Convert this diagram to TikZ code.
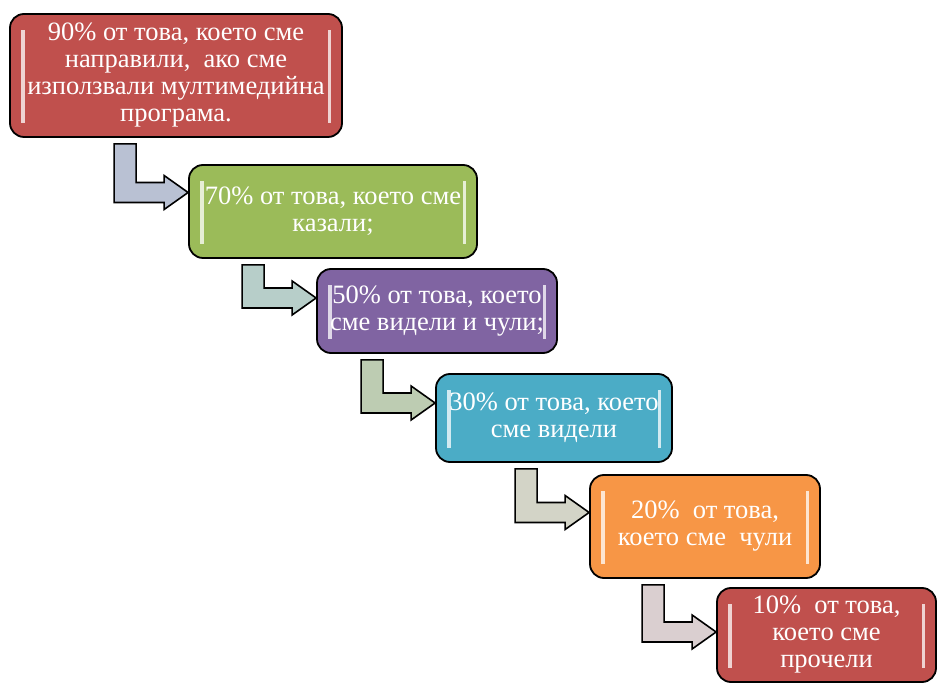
\documentclass[tikz,border=0pt]{standalone}
\usepackage{fontspec}
\setmainfont{Liberation Serif}
\usetikzlibrary{calc,positioning}
\definecolor{stagered}{RGB}{192,80,77}
\definecolor{stagegreen}{RGB}{155,187,89}
\definecolor{stagepurple}{RGB}{128,100,162}
\definecolor{stageteal}{RGB}{75,172,198}
\definecolor{stageorange}{RGB}{247,150,70}
\definecolor{arrowblue}{RGB}{185,193,211}
\definecolor{arrowteal}{RGB}{183,206,201}
\definecolor{arrowsage}{RGB}{189,204,178}
\definecolor{arrowkhaki}{RGB}{211,212,199}
\definecolor{arrowrose}{RGB}{218,207,208}

\begin{document}
\begin{tikzpicture}[x=1pt, y=1pt,
    stage/.style={rectangle, rounded corners=14pt, draw=black, line width=1.8pt, fill=#1,
      text=white, align=center, inner sep=0pt, font=\fontsize{26.5}{27}\selectfont,
      path picture={
        \fill[sharp corners, #1!25!white] ([xshift=11pt,yshift=-16pt]path picture bounding box.north west) rectangle ([xshift=14.5pt,yshift=14pt]path picture bounding box.south west);
        \fill[sharp corners, #1!25!white] ([xshift=-14.5pt,yshift=-16pt]path picture bounding box.north east) rectangle ([xshift=-11pt,yshift=14pt]path picture bounding box.south east);
      }},
    bentarrow/.style={draw=black, line width=1.6pt, line join=miter,
      to path={let \p1=(\tikztostart), \p2=(\tikztotarget) in
        (\x2-74pt,\y1-6pt) -- (\x2-52pt,\y1-6pt) -- (\x2-52pt,\y2+10pt) -- (\x2-24pt,\y2+10pt)
        -- (\x2-24pt,\y2+17pt) -- (\x2,\y2) -- (\x2-24pt,\y2-17pt) -- (\x2-24pt,\y2-10pt)
        -- (\x2-74pt,\y2-10pt) -- cycle}}
]
\useasboundingbox (0,0) rectangle (937,683);

% Stages
\node[stage=stagered, minimum width=332pt, minimum height=123pt] (b1) at (176,607.5)
  {90\% от това, което сме\\ направили,~ ако сме\\ използвали мултимедийна\\ програма.};
\node[stage=stagegreen, minimum width=288pt, minimum height=93pt] (b2) at (333,471.5)
  {70\% от това, което сме\\ казали;};
\node[stage=stagepurple, minimum width=240pt, minimum height=84pt] (b3) at (437,372)
  {50\% от това, което\\ сме видели и чули;};
\node[stage=stageteal, minimum width=236pt, minimum height=88pt] (b4) at (554,265)
  {30\% от това, което\\ сме видели};
\node[stage=stageorange, minimum width=230pt, minimum height=103pt] (b5) at (705,156.5)
  {20\%~ от това,\\ което сме~ чули};
\node[stage=stagered, minimum width=219pt, minimum height=94pt] (b6) at (826.5,48)
  {10\%~ от това,\\ което сме\\ прочели};

% Bent arrows
\draw[bentarrow, fill=arrowblue] (b1.south) to ([yshift=19pt]b2.west);
\draw[bentarrow, fill=arrowteal] (b2.south) to ([yshift=13pt]b3.west);
\draw[bentarrow, fill=arrowsage] (b3.south) to ([yshift=15pt]b4.west);
\draw[bentarrow, fill=arrowkhaki] (b4.south) to ([yshift=14pt]b5.west);
\draw[bentarrow, fill=arrowrose] (b5.south) to ([yshift=3pt]b6.west);

\end{tikzpicture}
\end{document}
